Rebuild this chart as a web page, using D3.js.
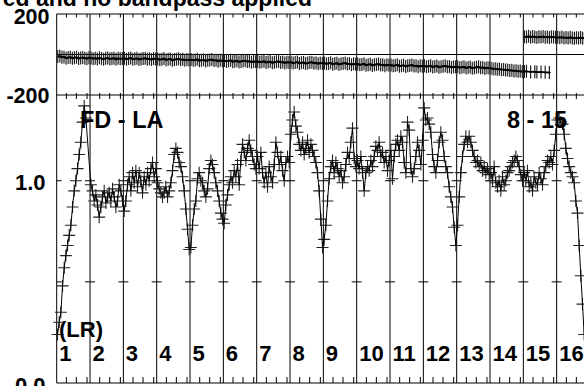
<!DOCTYPE html>
<html><head><meta charset="utf-8">
<script src="https://cdn.jsdelivr.net/npm/d3@7"></script>
<style>
body{margin:0;background:#fff;overflow:hidden}
svg{display:block}
text{font-family:"Liberation Sans",Arial,Helvetica,sans-serif;font-weight:bold;fill:#000}
</style>
</head><body>
<svg id="c" width="584" height="386"></svg>
<script>
// ---------- data ----------
const titleText = "ed and no bandpass applied";
const baselineLabel = "FD - LA";
const sourceLabel = "8 - 15";
const stokesLabel = "(LR)";
const ifLabels = ["1","2","3","4","5","6","7","8","9","10","11","12","13","14","15","16"];
const phaseTickLabels = [{v:200,t:"200"},{v:-200,t:"-200"}];
const ampTickLabels = [{v:1.0,t:"1.0"},{v:0.0,t:"0.0"}];
const ampMarkTicks = [0.5, 1.0];
const chanTickFractions = [0.29, 0.59, 0.91];

// amplitude per IF (20 channels each)
const ampIF1  = [0.24,0.30,0.35,0.48,0.57,0.63,0.68,0.73,0.78,0.87,0.95,1.00,1.06,1.13,1.19,1.29,1.37,1.31,null,null];
const ampIF2  = [0.98,0.95,0.90,0.93,0.88,0.82,0.87,0.92,0.95,0.89,0.92,0.94,0.90,0.96,0.92,0.87,0.90,0.98,0.95,0.90];
const ampIF3  = [0.85,0.90,0.98,1.02,0.95,1.04,0.99,1.05,0.97,1.04,1.00,0.94,1.02,0.98,1.04,1.00,1.06,1.09,1.02,1.06];
const ampIF4  = [0.99,0.96,0.94,0.92,0.94,0.97,0.92,0.95,0.99,1.05,1.13,1.16,1.14,1.09,1.07,1.02,0.95,0.86,0.76,0.66];
const ampIF5  = [0.67,0.78,0.86,0.90,1.01,1.04,1.00,0.99,0.95,0.92,0.96,1.06,1.10,1.08,1.04,0.99,0.95,0.90,0.84,0.81];
const ampIF6  = [0.79,0.88,0.93,0.98,1.02,0.99,1.05,1.02,1.08,0.98,1.10,1.18,1.14,1.10,1.16,1.20,1.15,1.12,1.08,1.06];
const ampIF7  = [1.12,1.06,1.14,1.04,0.99,1.04,0.97,1.07,1.02,0.99,1.08,1.19,1.14,1.08,1.12,1.05,1.00,1.09,1.12,1.09];
const ampIF8  = [1.23,1.30,1.34,1.27,1.24,1.18,1.15,1.19,1.13,1.16,1.20,1.14,1.18,1.15,1.12,1.09,1.04,0.95,0.81,0.67];
const ampIF9  = [0.71,0.78,0.90,1.01,1.07,1.10,1.04,1.09,1.06,1.02,1.05,0.99,1.02,1.08,1.14,1.11,1.19,1.26,1.11,1.07];
const ampIF10 = [1.10,1.06,1.12,1.04,0.95,1.04,1.07,1.05,1.10,1.07,1.12,1.17,1.15,1.19,1.12,1.14,1.09,1.12,1.05,1.10];
const ampIF11 = [1.15,1.01,1.12,1.18,1.20,1.15,1.22,1.19,1.09,1.04,1.29,1.25,1.06,1.02,1.06,1.12,1.19,1.15,1.08,1.20];
const ampIF12 = [1.36,1.30,1.31,1.28,1.24,1.13,1.07,1.04,1.10,1.19,1.24,1.20,1.12,1.07,1.04,0.97,0.92,0.87,0.77,0.68];
const ampIF13 = [0.78,0.92,1.04,1.12,1.18,1.22,1.19,1.22,1.19,1.15,1.12,1.09,1.10,1.07,1.09,1.05,1.07,1.04,1.06,1.03];
const ampIF14 = [1.04,1.00,1.07,0.99,0.97,1.00,0.95,1.02,0.98,1.00,1.04,1.05,1.07,1.09,1.10,1.12,1.10,1.07,1.03,1.00];
const ampIF15 = [1.04,1.00,1.05,0.97,0.99,0.95,1.02,0.99,0.98,1.04,1.01,0.98,1.04,1.07,1.10,1.09,1.12,1.08,1.15,1.23];
const ampIF16 = [1.30,1.31,1.29,1.28,1.23,1.16,1.11,1.07,1.04,1.02,0.99,0.90,0.84,0.68,0.53,0.39,0.24,null,null,null];
const ampData = [ampIF1,ampIF2,ampIF3,ampIF4,ampIF5,ampIF6,ampIF7,ampIF8,ampIF9,ampIF10,ampIF11,ampIF12,ampIF13,ampIF14,ampIF15,ampIF16];

// phase per IF (16 channels each), degrees
const phIF1  = [-10,-8,-14,-12,-18,-15,-13,-19,-16,-14,-20,-17,-15,-18,-21,-16];
const phIF2  = [-17,-21,-18,-22,-16,-20,-23,-19,-17,-22,-20,-18,-24,-19,-21,-20];
const phIF3  = [-19,-23,-20,-17,-24,-21,-19,-25,-22,-20,-18,-23,-21,-25,-20,-22];
const phIF4  = [-22,-26,-23,-20,-27,-24,-22,-28,-25,-23,-21,-26,-24,-29,-25,-27];
const phIF5  = [-25,-29,-27,-24,-31,-28,-26,-32,-29,-27,-25,-30,-28,-33,-29,-31];
const phIF6  = [-30,-34,-31,-29,-36,-33,-31,-37,-34,-32,-30,-35,-33,-38,-34,-36];
const phIF7  = [-34,-38,-36,-33,-40,-37,-35,-41,-38,-36,-34,-39,-37,-42,-38,-40];
const phIF8  = [-38,-42,-40,-37,-44,-41,-39,-45,-42,-40,-38,-43,-41,-46,-42,-44];
const phIF9  = [-42,-46,-44,-41,-48,-45,-43,-49,-46,-44,-42,-47,-45,-50,-46,-48];
const phIF10 = [-47,-51,-49,-46,-53,-50,-48,-54,-51,-49,-47,-52,-50,-55,-51,-53];
const phIF11 = [-52,-56,-54,-51,-58,-55,-53,-59,-56,-54,-52,-57,-55,-60,-56,-58];
const phIF12 = [-56,-60,-58,-55,-62,-59,-57,-63,-60,-58,-56,-61,-59,-64,-60,-62];
const phIF13 = [-61,-65,-63,-60,-67,-64,-62,-68,-65,-63,-61,-66,-64,-69,-65,-67];
const phIF14 = [-68,-71,-70,-73,-72,-75,-74,-77,-76,-79,-78,-81,-80,-83,-82,-85];
const phIF15low  = [-84,-83,null,-86,null,-85,-87,null,-86,null,-88,null,-89,null,null,null];
const phIF15high = [88,86,90,85,89,87,84,88,86,89,85,87,84,88,86,85];
const phIF16high = [85,83,86,82,84,81,85,82,80,83,81,84,80,82,79,81];
const phaseLow  = [phIF1,phIF2,phIF3,phIF4,phIF5,phIF6,phIF7,phIF8,phIF9,phIF10,phIF11,phIF12,phIF13,phIF14,phIF15low];
const phaseHigh = [null,null,null,null,null,null,null,null,null,null,null,null,null,null,phIF15high,phIF16high];

// ---------- drawing ----------
const svg = d3.select("#c");
const nIF = 16;
const x = d3.scaleLinear().domain([0, nIF]).range([56.7, 590]);
const yP = d3.scaleLinear().domain([-200, 200]).range([95, 14]);
const yA = d3.scaleLinear().domain([0, 1.4239]).range([383, 95]);
const ink = "#000";

// title
svg.append("text").attr("x", 312).attr("y", 5.5).attr("text-anchor","end")
  .attr("font-size", 23).text(titleText);

const g = svg.append("g");
g.selectAll("line.ifl").data(d3.range(0, nIF+1)).join("line")
  .attr("x1", d=>x(d)).attr("x2", d=>x(d)).attr("y1", yP(200)).attr("y2", yA(0))
  .attr("stroke", ink).attr("stroke-width", 1);
[yP(200), yP(0), yP(-200), yA(0)].forEach(yy=>{
  g.append("line").attr("x1", x(0)).attr("x2", x(nIF)).attr("y1", yy).attr("y2", yy)
   .attr("stroke", ink).attr("stroke-width", 1);
});
const chanTicks = [];
d3.range(nIF).forEach(i=>chanTickFractions.forEach(f=>chanTicks.push(i+f)));
g.selectAll("line.tp").data(chanTicks).join("line")
  .attr("x1",d=>x(d)).attr("x2",d=>x(d)).attr("y1",yP(200)).attr("y2",yP(200)+3.5)
  .attr("stroke",ink).attr("stroke-width",1);
g.selectAll("line.tm").data(chanTicks).join("line")
  .attr("x1",d=>x(d)).attr("x2",d=>x(d)).attr("y1",yP(-200)-2).attr("y2",yP(-200)+4)
  .attr("stroke",ink).attr("stroke-width",1);
g.selectAll("line.tb").data(chanTicks).join("line")
  .attr("x1",d=>x(d)).attr("x2",d=>x(d)).attr("y1",yA(0)).attr("y2",yA(0)-6)
  .attr("stroke",ink).attr("stroke-width",1);
ampMarkTicks.forEach(v=>{
  d3.range(0, nIF+1).forEach(i=>{
    g.append("line").attr("x1", i===0?x(0):x(i)-5).attr("x2", x(i)+5)
     .attr("y1", yA(v)).attr("y2", yA(v)).attr("stroke", ink).attr("stroke-width",1);
  });
});

svg.selectAll("text.pl").data(phaseTickLabels).join("text")
  .attr("x", 49.5).attr("y", d=>yP(d.v)+ (d.v>0?10:8)).attr("text-anchor","end")
  .attr("font-size", 21.5).text(d=>d.t);
svg.selectAll("text.al").data(ampTickLabels).join("text")
  .attr("x", 45.5).attr("y", d=>yA(d.v)+9.5).attr("text-anchor","end")
  .attr("font-size", 22).text(d=>d.t);

// ---------- phase ----------
function phasePoints(arr){
  const pts=[];
  arr.forEach((vals,i)=>{
    if(!vals) return;
    const n=vals.length;
    vals.forEach((v,c)=>{ if(v!==null) pts.push({x:x(i+(c+0.5)/n), y:yP(v)}); });
  });
  return pts;
}
const line = d3.line().x(d=>d.x).y(d=>d.y);
[phaseLow, phaseHigh].forEach(arr=>{
  const pts = phasePoints(arr);
  svg.append("path").attr("d", pts.map(p=>`M${p.x},${p.y-6.5}v13M${p.x-1.5},${p.y}h3`).join(""))
    .attr("stroke","#222").attr("stroke-width",1.2).attr("fill","none");
  svg.append("path").attr("d", line(pts)).attr("stroke","#000").attr("stroke-width",1.8).attr("fill","none");
});

// ---------- amplitude ----------
const aPts=[];
ampData.forEach((vals,i)=>{
  const n=vals.length;
  vals.forEach((v,c)=>{ if(v!==null) aPts.push({x:x(i+(c+0.5)/n), y:yA(v)}); });
});
svg.append("path").attr("d", aPts.map(p=>`M${p.x-6},${p.y}h12M${p.x},${p.y-6}v12`).join(""))
  .attr("stroke","#222").attr("stroke-width",1.1).attr("fill","none");
svg.append("path").attr("d", line(aPts)).attr("stroke","#000").attr("stroke-width",1).attr("fill","none");

// ---------- panel labels ----------
svg.append("text").attr("x", 80).attr("y", 127.5).attr("font-size", 23.5).text(baselineLabel);
svg.append("text").attr("x", 507).attr("y", 127.5).attr("font-size", 23.5).text(sourceLabel);
svg.append("text").attr("x", 59).attr("y", 336.5).attr("font-size", 22).text(stokesLabel);
svg.selectAll("text.ifn").data(ifLabels).join("text")
  .attr("x", (d,i)=>x(i)+2.5).attr("y", 361).attr("font-size", 22).text(d=>d);
</script>
</body></html>
